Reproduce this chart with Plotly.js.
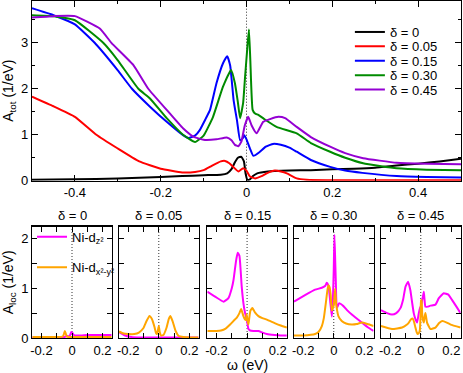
<!DOCTYPE html>
<html><head><meta charset="utf-8">
<script src="https://cdn.plot.ly/plotly-3.0.1.min.js"></script>
<style>html,body{margin:0;padding:0;background:#fff;} #chart{width:463px;height:373px;}</style>
</head><body><div id="chart"></div>
<script>
// ---------- top panel: A_tot(omega) ----------
const deltaLabels = ['δ = 0', 'δ = 0.05', 'δ = 0.15', 'δ = 0.30', 'δ = 0.45'];

const totX_d000 = [-0.5,-0.4,-0.3,-0.2,-0.15,-0.1,-0.06,-0.045,-0.035,-0.027,-0.02,-0.012,-0.006,-0.002,0.002,0.008,0.015,0.025,0.05,0.1,0.15,0.2,0.25,0.3,0.35,0.4,0.45,0.5];
const totY_d000 = [0.02,0.03,0.05,0.08,0.1,0.12,0.13,0.16,0.25,0.4,0.5,0.52,0.42,0.15,0.02,0.03,0.1,0.16,0.2,0.22,0.23,0.25,0.26,0.28,0.33,0.37,0.42,0.48];

const totX_d005 = [-0.5,-0.45,-0.4,-0.35,-0.3,-0.25,-0.2,-0.15,-0.12,-0.1,-0.08,-0.06,-0.05,-0.04,-0.031,-0.019,-0.008,0,0.008,0.02,0.035,0.047,0.066,0.08,0.094,0.117,0.14,0.2,0.3,0.4,0.5];
const totY_d005 = [1.83,1.62,1.39,1.0,0.7,0.42,0.26,0.18,0.19,0.23,0.33,0.42,0.43,0.38,0.3,0.2,0.27,0.22,0.09,0.05,0.1,0.16,0.22,0.2,0.16,0.05,0.02,0.01,0.01,0.01,0.01];

const totX_d015 = [-0.5,-0.45,-0.4,-0.354,-0.3,-0.267,-0.225,-0.186,-0.148,-0.135,-0.12,-0.109,-0.095,-0.085,-0.07,-0.055,-0.045,-0.038,-0.03,-0.022,-0.015,-0.009,-0.005,0.0,0.008,0.016,0.03,0.045,0.062,0.08,0.1,0.117,0.15,0.195,0.23,0.27,0.35,0.42,0.5];
const totY_d015 = [3.75,3.6,3.4,3.0,2.4,2.0,1.61,1.28,0.99,0.93,0.98,1.1,1.35,1.54,2.12,2.55,2.71,2.5,1.75,1.3,0.88,0.92,0.99,0.9,0.7,0.54,0.62,0.74,0.8,0.78,0.72,0.63,0.45,0.3,0.22,0.17,0.1,0.08,0.07];

const totX_d030 = [-0.5,-0.45,-0.4,-0.334,-0.3,-0.252,-0.225,-0.186,-0.148,-0.12,-0.1,-0.078,-0.055,-0.036,-0.027,-0.02,-0.015,-0.008,-0.003,0.002,0.0057,0.009,0.0143,0.02,0.0275,0.04,0.07,0.117,0.15,0.195,0.23,0.272,0.35,0.42,0.5];
const totY_d030 = [3.6,3.58,3.49,3.0,2.62,2.0,1.79,1.36,1.0,0.84,0.98,1.39,2.04,2.41,2.12,1.7,1.36,1.68,2.3,2.9,3.29,2.6,1.54,1.46,1.43,1.35,1.17,1.03,0.82,0.63,0.5,0.38,0.27,0.24,0.23];

const totX_d045 = [-0.5,-0.45,-0.4,-0.342,-0.315,-0.264,-0.229,-0.186,-0.148,-0.124,-0.1,-0.07,-0.046,-0.035,-0.027,-0.019,-0.012,-0.004,0.004,0.012,0.0235,0.039,0.055,0.074,0.09,0.117,0.15,0.195,0.23,0.272,0.35,0.42,0.5];
const totY_d045 = [3.55,3.58,3.58,3.31,3.0,2.52,2.0,1.54,1.14,0.96,0.89,0.9,0.94,0.88,0.78,0.75,0.85,1.2,1.39,1.2,1.03,1.28,1.34,1.39,1.36,1.17,0.95,0.74,0.6,0.49,0.39,0.37,0.36];

// ---------- bottom panels: A_loc(omega), Ni-dz2 and Ni-dx2-y2 ----------
const orbLabels = ['Ni-d<sub>z²</sub>', 'Ni-d<sub>x²-y²</sub>'];

const locZX_d000 = [-0.26,-0.2,-0.1,-0.05,-0.03,-0.02,-0.012,-0.005,0.003,0.012,0.03,0.06,0.1,0.15,0.2,0.26];
const locZY_d000 = [0.01,0.01,0.015,0.02,0.04,0.03,0.06,0.12,0.1,0.06,0.05,0.05,0.06,0.06,0.06,0.06];
const locXX_d000 = [-0.26,-0.1,-0.06,-0.053,-0.047,-0.04,-0.033,-0.02,0,0.1,0.26];
const locXY_d000 = [0.02,0.02,0.03,0.08,0.14,0.08,0.03,0.02,0.02,0.02,0.02];

const locZX_d005 = [-0.26,-0.22,-0.18,-0.12,0,0.12,0.26];
const locZY_d005 = [0.12,0.05,0.02,0.01,0.01,0.01,0.01];
const locXX_d005 = [-0.26,-0.23,-0.2,-0.16,-0.13,-0.1,-0.08,-0.061,-0.045,-0.028,-0.018,-0.012,-0.006,0,0.006,0.015,0.03,0.05,0.065,0.076,0.09,0.11,0.13,0.16,0.2,0.26];
const locXY_d005 = [0.13,0.09,0.08,0.08,0.11,0.2,0.34,0.44,0.38,0.22,0.1,0.08,0.15,0.24,0.12,0.05,0.06,0.2,0.38,0.44,0.34,0.14,0.04,0.02,0.01,0.01];

const locZX_d015 = [-0.26,-0.209,-0.154,-0.122,-0.1,-0.089,-0.072,-0.061,-0.05,-0.035,-0.024,-0.013,-0.002,0.009,0.02,0.041,0.074,0.1,0.129,0.18,0.22,0.26];
const locZY_d015 = [0.93,0.83,0.73,0.8,1.0,1.16,1.55,1.71,1.65,1.03,0.7,0.5,0.37,0.18,0.15,0.14,0.14,0.11,0.08,0.06,0.05,0.05];
const locXX_d015 = [-0.26,-0.2,-0.17,-0.14,-0.111,-0.09,-0.067,-0.05,-0.039,-0.03,-0.024,-0.015,-0.008,-0.003,0.003,0.009,0.015,0.022,0.035,0.05,0.074,0.1,0.129,0.18,0.22,0.26];
const locXY_d015 = [0.14,0.14,0.15,0.19,0.27,0.34,0.41,0.5,0.58,0.5,0.44,0.38,0.36,0.48,0.35,0.27,0.42,0.55,0.6,0.52,0.44,0.4,0.37,0.3,0.25,0.21];

const locZX_d030 = [-0.26,-0.188,-0.122,-0.078,-0.055,-0.046,-0.035,-0.024,-0.013,-0.006,0,0.004,0.008,0.013,0.02,0.035,0.063,0.09,0.118,0.15,0.183,0.22,0.26];
const locZY_d030 = [0.73,0.86,0.97,1.01,1.05,1.11,1.05,0.76,0.43,0.75,1.4,2.07,1.7,1.16,0.6,0.7,0.64,0.55,0.47,0.39,0.31,0.22,0.14];
const locXX_d030 = [-0.26,-0.2,-0.122,-0.1,-0.078,-0.065,-0.052,-0.042,-0.035,-0.027,-0.02,-0.013,-0.006,0,0.005,0.009,0.015,0.022,0.03,0.052,0.08,0.118,0.15,0.183,0.22,0.26];
const locXY_d030 = [0.05,0.05,0.08,0.12,0.24,0.4,0.7,0.95,1.06,1.02,0.85,0.55,0.6,0.65,0.85,0.99,0.7,0.55,0.44,0.34,0.29,0.27,0.28,0.31,0.28,0.24];

const locZX_d045 = [-0.26,-0.22,-0.188,-0.16,-0.133,-0.115,-0.1,-0.083,-0.068,-0.056,-0.046,-0.035,-0.024,-0.013,-0.005,0.003,0.009,0.015,0.02,0.025,0.03,0.045,0.063,0.096,0.118,0.15,0.18,0.205,0.235,0.26];
const locZY_d045 = [0.56,0.5,0.47,0.5,0.6,0.78,1.03,1.13,0.96,0.7,0.5,0.38,0.31,0.5,0.6,0.65,0.76,0.85,0.93,0.75,0.63,0.63,0.65,0.67,0.8,0.9,0.87,0.76,0.62,0.5];
const locXX_d045 = [-0.26,-0.188,-0.122,-0.09,-0.078,-0.065,-0.052,-0.042,-0.035,-0.027,-0.02,-0.012,-0.006,-0.002,0.0015,0.005,0.009,0.015,0.02,0.025,0.03,0.035,0.041,0.063,0.096,0.12,0.14,0.17,0.195,0.26];
const locXY_d045 = [0.24,0.18,0.21,0.27,0.31,0.37,0.39,0.3,0.21,0.12,0.08,0.1,0.16,0.4,0.76,0.76,0.5,0.35,0.31,0.42,0.5,0.42,0.31,0.18,0.21,0.3,0.34,0.31,0.27,0.21];

// tick labels
const topXTicks = [-0.4,-0.2,0,0.2,0.4];
const topXTickText = ['-0.4','-0.2','0','0.2','0.4'];
const topYTicks = [0,1,2,3];
const botXTicks = [-0.2,0,0.2];
const botXTickText = ['-0.2','0','0.2'];
const botYTicks = [0,1,2];

// ---------- build ----------
const FONT = 'Liberation Sans, Arial, Helvetica, sans-serif';
const topColors = ['#000000','#ff0000','#0000ff','#008b00','#9400d3'];
const orbColors = ['#ff00ff','#ffa500'];
const topXs = [totX_d000,totX_d005,totX_d015,totX_d030,totX_d045];
const topYs = [totY_d000,totY_d005,totY_d015,totY_d030,totY_d045];
const zXs = [locZX_d000,locZX_d005,locZX_d015,locZX_d030,locZX_d045];
const zYs = [locZY_d000,locZY_d005,locZY_d015,locZY_d030,locZY_d045];
const xXs = [locXX_d000,locXX_d005,locXX_d015,locXX_d030,locXX_d045];
const xYs = [locXY_d000,locXY_d005,locXY_d015,locXY_d030,locXY_d045];

const traces = [];
const legendNames = ['legend','legend2','legend3','legend4','legend5'];
for (let i = 0; i < 5; i++) {
  traces.push({x: topXs[i], y: topYs[i], name: deltaLabels[i], type: 'scatter', mode: 'lines',
    line: {color: topColors[i], width: 2, shape: 'spline', smoothing: 0.4},
    xaxis: 'x', yaxis: 'y', legend: legendNames[i], hoverinfo: 'skip'});
}
for (let i = 0; i < 5; i++) {
  const ax = String(i + 2);
  traces.push({x: zXs[i], y: zYs[i], name: orbLabels[0], type: 'scatter', mode: 'lines',
    line: {color: orbColors[0], width: 2, shape: 'spline', smoothing: 0.4},
    xaxis: 'x' + ax, yaxis: 'y' + ax, showlegend: i === 0, legend: 'legend6', hoverinfo: 'skip'});
  traces.push({x: xXs[i], y: xYs[i], name: orbLabels[1], type: 'scatter', mode: 'lines',
    line: {color: orbColors[1], width: 2, shape: 'spline', smoothing: 0.4},
    xaxis: 'x' + ax, yaxis: 'y' + ax, showlegend: i === 0, legend: 'legend7', hoverinfo: 'skip'});
}

const common = {showline: true, linecolor: '#000', linewidth: 1.2, mirror: 'allticks', ticks: 'inside',
  tickcolor: '#000', tickwidth: 1, showgrid: false, zeroline: false, fixedrange: true,
  tickfont: {family: FONT, size: 13, color: '#000'}, tickmode: 'array'};

const layout = {
  width: 463, height: 373, margin: {l: 32, r: 2, t: 0, b: 35},
  paper_bgcolor: '#fff', plot_bgcolor: '#fff', showlegend: true,
  font: {family: FONT, size: 13, color: '#000'},
  xaxis: Object.assign({}, common, {domain: [0, 1], anchor: 'y', range: [-0.5, 0.5],
    tickvals: topXTicks, ticktext: topXTickText, ticklen: 6,
    minor: {tickmode: 'linear', tick0: 0, dtick: 0.1, ticks: 'inside', ticklen: 3, tickcolor: '#000', tickwidth: 1}}),
  yaxis: Object.assign({}, common, {domain: [0.4654, 0.9985], anchor: 'x', range: [0, 3.92],
    tickvals: topYTicks, ticklen: 6,
    minor: {tickmode: 'linear', tick0: 0, dtick: 0.5, ticks: 'inside', ticklen: 3, tickcolor: '#000', tickwidth: 1},
    title: {text: 'A<sub>tot</sub> (1/eV)', font: {family: FONT, size: 14, color: '#000'}}}),
  annotations: [], shapes: []
};
const botDomains = [[0.0007,0.1858],[0.2028,0.3883],[0.4086,0.5941],[0.6107,0.7962],[0.8135,0.999]];
for (let i = 0; i < 5; i++) {
  const ax = String(i + 2);
  layout['xaxis' + ax] = Object.assign({}, common, {domain: botDomains[i], anchor: 'y' + ax, range: [-0.26, 0.26],
    tickvals: botXTicks, ticktext: botXTickText, ticklen: 5,
    minor: {tickmode: 'linear', tick0: 0, dtick: 0.1, ticks: 'inside', ticklen: 5, tickcolor: '#000', tickwidth: 1}});
  layout['yaxis' + ax] = Object.assign({}, common, {domain: [0.0, 0.3293], anchor: 'x' + ax, range: [0, 2.235],
    tickvals: botYTicks, ticklen: 5, showticklabels: i === 0,
    minor: {tickmode: 'linear', tick0: 0, dtick: 0.5, ticks: 'inside', ticklen: 5, tickcolor: '#000', tickwidth: 1}});
  layout.annotations.push({text: deltaLabels[i], xref: 'x' + ax + ' domain', yref: 'paper', x: 0.5, y: 0.3639,
    xanchor: 'center', yanchor: 'middle', showarrow: false, font: {family: FONT, size: 13, color: '#000'}});
  layout.shapes.push({type: 'line', xref: 'x' + ax, yref: 'y' + ax + ' domain', x0: 0, x1: 0, y0: 0, y1: 1,
    layer: 'below', line: {color: '#333', width: 1, dash: '1px,2px'}});
}
layout.shapes.push({type: 'line', xref: 'x', yref: 'y domain', x0: 0, x1: 0, y0: 0, y1: 1,
  layer: 'below', line: {color: '#333', width: 1, dash: '1px,2px'}});
layout.yaxis2.title = {text: 'A<sub>loc</sub> (1/eV)', font: {family: FONT, size: 14, color: '#000'}};
// shared x-axis label of the bottom row, centred under the middle panel
layout.annotations.push({text: 'ω (eV)', xref: 'x4 domain', yref: 'paper', x: 0.5, y: -0.0785,
  xanchor: 'center', yanchor: 'middle', showarrow: false, borderpad: 0,
  font: {family: FONT, size: 14, color: '#000'}});

const topLegY = [0.9053, 0.8627, 0.8201, 0.7775, 0.7349];
for (let i = 0; i < 5; i++) {
  layout[legendNames[i]] = {x: 0.741, y: topLegY[i], xanchor: 'left', yanchor: 'middle',
    bgcolor: 'rgba(0,0,0,0)', borderwidth: 0, itemwidth: 30,
    font: {family: FONT, size: 13, color: '#000'}};
}
layout.legend6 = {x: 0.0, y: 0.2997, xanchor: 'left', yanchor: 'middle', bgcolor: 'rgba(0,0,0,0)',
  borderwidth: 0, itemwidth: 30, font: {family: FONT, size: 13, color: '#000'}};
layout.legend7 = {x: 0.0, y: 0.2092, xanchor: 'left', yanchor: 'middle', bgcolor: 'rgba(0,0,0,0)',
  borderwidth: 0, itemwidth: 30, font: {family: FONT, size: 13, color: '#000'}};

Plotly.newPlot('chart', traces, layout, {displayModeBar: false, staticPlot: true});
</script></body></html>
